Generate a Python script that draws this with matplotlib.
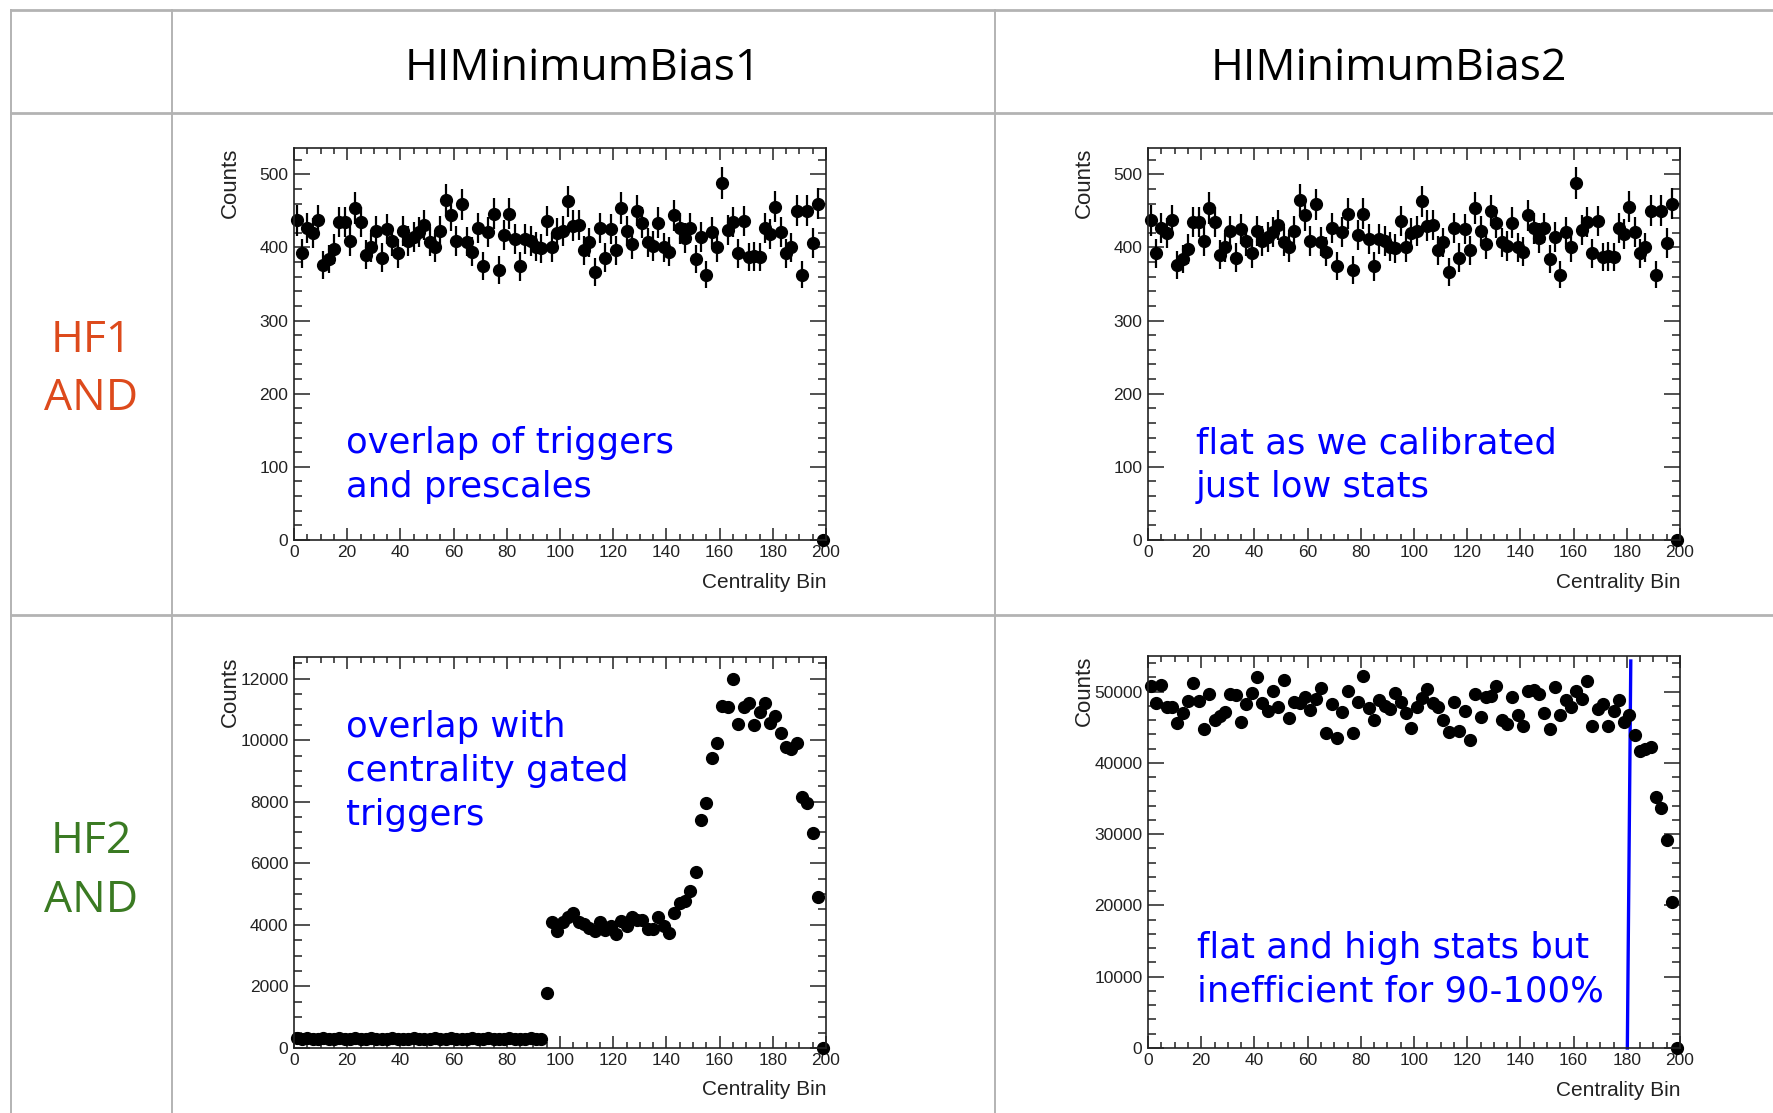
import matplotlib.pyplot as plt
import numpy as np
from matplotlib.lines import Line2D
from matplotlib.ticker import MultipleLocator

W, H = 1773, 1113

# centrality bins, 2 units wide over 0-200
bin_centers = np.arange(1, 200, 2)

# HF1 AND counts (same histogram in both datasets)
hf1_counts = [437, 392, 427, 420, 437, 376, 384, 398, 435, 435,
              409, 454, 435, 390, 400, 423, 386, 425, 409, 392,
              423, 409, 414, 421, 431, 408, 400, 422, 465, 444,
              409, 459, 408, 394, 427, 375, 421, 446, 369, 417,
              446, 412, 374, 412, 409, 401, 399, 436, 400, 420,
              423, 463, 430, 431, 396, 407, 367, 427, 386, 425,
              396, 454, 423, 405, 450, 434, 407, 402, 434, 400,
              394, 444, 426, 413, 427, 384, 414, 363, 421, 400,
              488, 424, 435, 392, 436, 387, 388, 387, 427, 418,
              456, 421, 392, 400, 450, 363, 450, 406, 460, 0]

# HF2 AND counts, HIMinimumBias1
hf2_mb1_counts = [320, 300, 310, 290, 305, 315, 290, 300, 320, 295,
                  300, 310, 305, 290, 310, 300, 285, 300, 315, 300,
                  290, 305, 310, 290, 300, 295, 310, 290, 305, 310,
                  300, 285, 300, 315, 300, 290, 310, 300, 290, 305,
                  310, 300, 285, 300, 310, 290, 300, 1800, 4090, 3800,
                  4090, 4240, 4400, 4100, 4020, 3910, 3800, 4100, 3840, 3970,
                  3700, 4120, 3950, 4240, 4160, 4160, 3870, 3870, 4240, 3950,
                  3730, 4380, 4700, 4760, 5100, 5730, 7400, 7950, 9430, 9920,
                  11100, 11080, 12000, 10520, 11080, 11210, 10480, 10920, 11210, 10570,
                  10780, 10220, 9780, 9700, 9920, 8160, 7970, 6970, 4920, 0]

# HF2 AND counts, HIMinimumBias2
hf2_mb2_counts = [50840, 48360, 50980, 47800, 47890, 45610, 46960, 48640, 51170, 48640,
                  44770, 49670, 46030, 46640, 47100, 49670, 49530, 45700, 48270, 49770,
                  52100, 48360, 47240, 50040, 47800, 51640, 46310, 48500, 48360, 49300,
                  47470, 48970, 50510, 44150, 48270, 43450, 47100, 50040, 44150, 48600,
                  52240, 47710, 46030, 48830, 48040, 47570, 49810, 48500, 47010, 44910,
                  47800, 49120, 50380, 48360, 47800, 46030, 44390, 48500, 44440, 47340,
                  43270, 49670, 46500, 49300, 49440, 50840, 46030, 45470, 49300, 46730,
                  45230, 50040, 50240, 49670, 46960, 44770, 50600, 46780, 48830, 47800,
                  50140, 48970, 51540, 45140, 47570, 48270, 45140, 47340, 48830, 45700,
                  46730, 43970, 41630, 41970, 42190, 35180, 33640, 29250, 20470, 0]

# hand-drawn cut marker on the HF2 / MinimumBias2 panel
cut_x = [180.2, 181.5]
cut_y = [0, 54300]

col_titles = ["HIMinimumBias1", "HIMinimumBias2"]
row_titles = [["HF1", "AND"], ["HF2", "AND"]]
row_colors = ["#dd4a1c", "#3a7a22"]

notes = [["overlap of triggers", "and prescales"],
         ["flat as we calibrated", "just low stats"],
         ["overlap with", "centrality gated", "triggers"],
         ["flat and high stats but", "inefficient for 90-100%"]]


def fx(x):
    return x / W


def fy(y):
    return 1 - y / H


def add_panel(fig, box):
    x0, y0, x1, y1 = box
    return fig.add_axes([fx(x0), fy(y1), (x1 - x0) / W, (y1 - y0) / H])


def draw_hist(ax, counts, ymax, ymajor, yminor):
    counts = np.asarray(counts, dtype=float)
    bars = ax.errorbar(bin_centers, counts, yerr=np.sqrt(counts), fmt="o",
                       color="black", ms=8.5, elinewidth=1.6, capsize=0)
    for artist in bars.lines[0:1] + tuple(bars.lines[2]):
        artist.set_clip_on(False)
    ax.set_xlim(0, 200)
    ax.set_ylim(0, ymax)
    ax.xaxis.set_major_locator(MultipleLocator(20))
    ax.xaxis.set_minor_locator(MultipleLocator(5))
    ax.yaxis.set_major_locator(MultipleLocator(ymajor))
    ax.yaxis.set_minor_locator(MultipleLocator(yminor))
    ax.tick_params(which="both", direction="in", top=True, right=True,
                   width=1.1, color="#222222", labelsize=12.5,
                   labelcolor="#222222")
    ax.tick_params(axis="x", which="major", length=8.6, pad=3.5)
    ax.tick_params(axis="x", which="minor", length=4.3)
    ax.tick_params(axis="y", which="major", length=11.5, pad=4)
    ax.tick_params(axis="y", which="minor", length=5.8)
    for s in ax.spines.values():
        s.set_linewidth(1.2)
        s.set_color("#222222")
    ax.set_xlabel("Centrality Bin", loc="right", fontsize=15, color="#222222")
    ax.xaxis.set_label_coords(1.0, -0.083)
    ax.set_ylabel("Counts", loc="top", fontsize=16, color="#222222")
    ax.yaxis.set_label_coords(-0.1, 1.0)


plt.rcParams["font.family"] = ["Liberation Sans", "DejaVu Sans"]
fig = plt.figure(figsize=(W / 100, H / 100), dpi=100)

# table grid
grid_color = "#b3b3b3"
for y in [9.5, 113, 615]:
    fig.add_artist(Line2D([fx(11), 1], [fy(y), fy(y)], color=grid_color, lw=2.0))
for x in [11, 172, 995]:
    fig.add_artist(Line2D([fx(x), fx(x)], [fy(9.5), 0], color=grid_color, lw=1.4))

# header row and row labels
for title, cx in zip(col_titles, [583, 1389]):
    fig.text(fx(cx), fy(80), title, family="Open Sans", fontsize=32,
             ha="center", va="baseline", color="black")
for lines, color, baselines in zip(row_titles, row_colors, [[352, 410], [853, 912]]):
    for line, by in zip(lines, baselines):
        fig.text(fx(91), fy(by), line, family="Open Sans", fontsize=32,
                 ha="center", va="baseline", color=color)

# histograms
boxes = [(294, 148, 826, 540), (1148, 148, 1680, 540),
         (294, 657, 826, 1048), (1148, 656, 1680, 1048)]
axes = [add_panel(fig, b) for b in boxes]
draw_hist(axes[0], hf1_counts, 536, 100, 20)
draw_hist(axes[1], hf1_counts, 536, 100, 20)
draw_hist(axes[2], hf2_mb1_counts, 12700, 2000, 500)
draw_hist(axes[3], hf2_mb2_counts, 55000, 10000, 2000)
axes[3].plot(cut_x, cut_y, color="blue", lw=2.4, clip_on=False)

# blue comments on the panels
note_pos = [(346, [453, 497]), (1196, [453, 497]),
            (346, [737, 781, 825]), (1197, [958, 1002])]
for lines, (x, baselines) in zip(notes, note_pos):
    for line, by in zip(lines, baselines):
        fig.text(fx(x), fy(by), line, family="DejaVu Sans", fontsize=25.5,
                 ha="left", va="baseline", color="blue")

fig.savefig("out.png", dpi=100)
plt.close(fig)
